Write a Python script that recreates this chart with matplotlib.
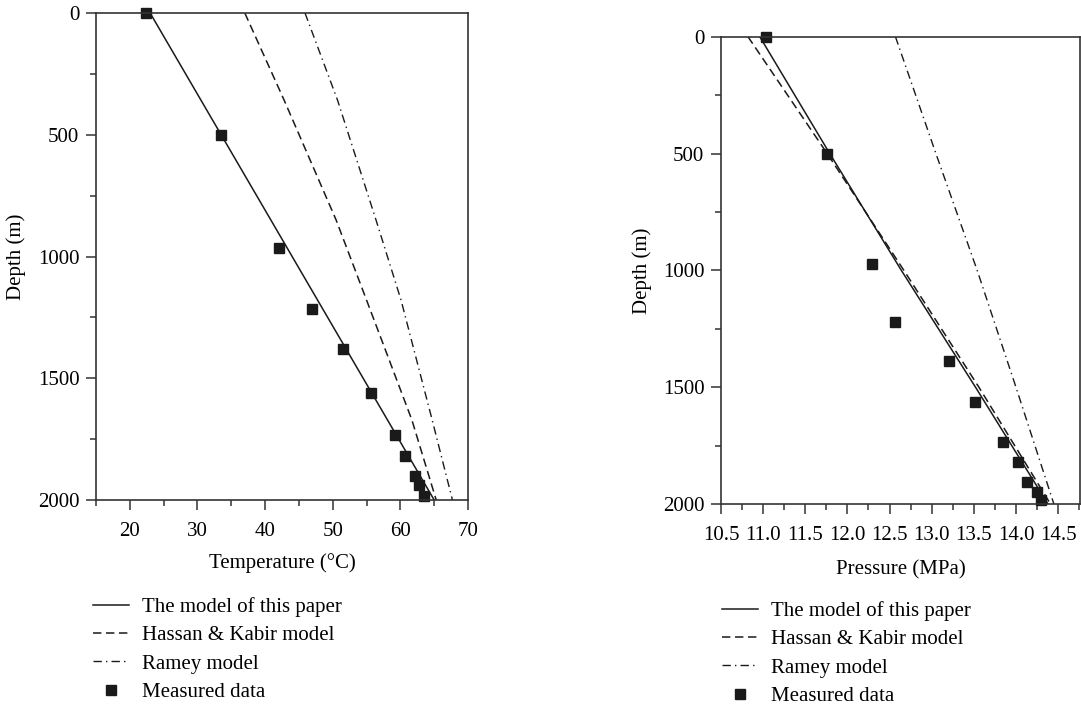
import matplotlib
matplotlib.use("Agg")
import matplotlib.pyplot as plt
import matplotlib.ticker as mticker
from matplotlib.lines import Line2D

plt.rcParams["font.family"] = ["Liberation Serif", "DejaVu Serif"]
plt.rcParams["font.size"] = 15

# ---- temperature panel ----
meas_depth_t = [0, 500, 964, 1214, 1380, 1560, 1732, 1818, 1901, 1940, 1982]
meas_temp = [22.4, 33.5, 42.1, 47.0, 51.45, 55.6, 59.2, 60.65, 62.1, 62.7, 63.5]

model_depth_t = [0, 2000]
model_temp = [23.0, 65.0]

hk_depth_t = [0, 357, 850, 1179, 1671, 2000]
hk_temp = [37.0, 42.8, 50.5, 55.0, 61.7, 65.3]

ramey_depth_t = [0, 357, 850, 1179, 1671, 2000]
ramey_temp = [45.9, 50.7, 56.4, 60.1, 64.7, 67.7]

# ---- pressure panel ----
meas_depth_p = [0, 500, 972, 1219, 1386, 1562, 1736, 1819, 1907, 1947, 1981]
meas_pres = [11.03, 11.76, 12.29, 12.56, 13.21, 13.51, 13.85, 14.03, 14.13, 14.25, 14.30]

model_depth_p = [0, 500, 1000, 1500, 2000]
model_pres = [10.96, 11.79, 12.64, 13.52, 14.38]

hk_depth_p = [0, 500, 1000, 1500, 2000]
hk_pres = [10.82, 11.76, 12.67, 13.56, 14.41]

ramey_depth_p = [0, 500, 1000, 1500, 2000]
ramey_pres = [12.57, 13.05, 13.54, 14.00, 14.45]

labels = ["The model of this paper", "Hassan & Kabir model", "Ramey model", "Measured data"]

INK = "#1a1a1a"
DASH = (0, (5.5, 3))
DASHDOT = (0, (6, 3, 1, 3))

W, H = 1081, 706
fig = plt.figure(figsize=(W / 100, H / 100), dpi=100)


def px_axes(left, top, right, bottom):
    return fig.add_axes([left / W, 1 - bottom / H, (right - left) / W, (bottom - top) / H])


def style(ax):
    for s in ax.spines.values():
        s.set_linewidth(1.2)
        s.set_color("#333333")
    ax.tick_params(which="both", direction="out", color="#333333", width=1.1)
    ax.tick_params(which="major", length=7)
    ax.tick_params(which="minor", length=4)
    ax.tick_params(axis="x", pad=9)
    ax.tick_params(axis="y", pad=5)
    ax.yaxis.set_major_locator(mticker.MultipleLocator(500))
    ax.yaxis.set_minor_locator(mticker.MultipleLocator(250))


def draw(ax, md, mv, hd, hv, rd, rv, sd, sv):
    ax.plot(mv, md, color=INK, lw=1.1)
    ax.plot(hv, hd, color=INK, lw=1.1, ls=DASH)
    ax.plot(rv, rd, color=INK, lw=1.0, ls=DASHDOT)
    ax.plot(sv, sd, ls="none", marker="s", ms=7.5, color=INK, clip_on=False)


def add_legend(x, y):
    handles = [
        Line2D([], [], color=INK, lw=1.1),
        Line2D([], [], color=INK, lw=1.1, ls=DASH),
        Line2D([], [], color=INK, lw=1.0, ls=DASHDOT),
        Line2D([], [], ls="none", marker="s", ms=7, color=INK),
    ]
    fig.legend(handles, labels, loc="upper left", bbox_to_anchor=(x / W, 1 - y / H),
               frameon=False, borderpad=0, borderaxespad=0, handlelength=1.75,
               handletextpad=0.6, labelspacing=0.42, fontsize=15)


# left: temperature
ax1 = px_axes(96, 13, 468, 500)
style(ax1)
draw(ax1, model_depth_t, model_temp, hk_depth_t, hk_temp, ramey_depth_t, ramey_temp,
     meas_depth_t, meas_temp)
ax1.set_xlim(15, 70)
ax1.set_ylim(2000, 0)
ax1.xaxis.set_major_locator(mticker.FixedLocator([20, 30, 40, 50, 60, 70]))
ax1.xaxis.set_minor_locator(mticker.MultipleLocator(5))
ax1.set_xlabel("Temperature (°C)")
ax1.set_ylabel("Depth (m)")
ax1.xaxis.set_label_coords(0.5, -0.11)
ax1.yaxis.set_label_coords(-0.187, 0.5)
add_legend(93, 597)

# right: pressure
ax2 = px_axes(721, 36.7, 1080, 504)
style(ax2)
draw(ax2, model_depth_p, model_pres, hk_depth_p, hk_pres, ramey_depth_p, ramey_pres,
     meas_depth_p, meas_pres)
ax2.set_xlim(10.5, 14.76)
ax2.set_ylim(2000, 0)
ax2.xaxis.set_major_locator(mticker.FixedLocator([10.5, 11.0, 11.5, 12.0, 12.5, 13.0, 13.5, 14.0, 14.5]))
ax2.xaxis.set_major_formatter(mticker.FormatStrFormatter("%.1f"))
ax2.xaxis.set_minor_locator(mticker.MultipleLocator(0.25))
ax2.set_xlabel("Pressure (MPa)")
ax2.set_ylabel("Depth (m)")
ax2.xaxis.set_label_coords(0.5, -0.12)
ax2.yaxis.set_label_coords(-0.192, 0.5)
add_legend(722, 601)

fig.savefig("out.png", dpi=100)
